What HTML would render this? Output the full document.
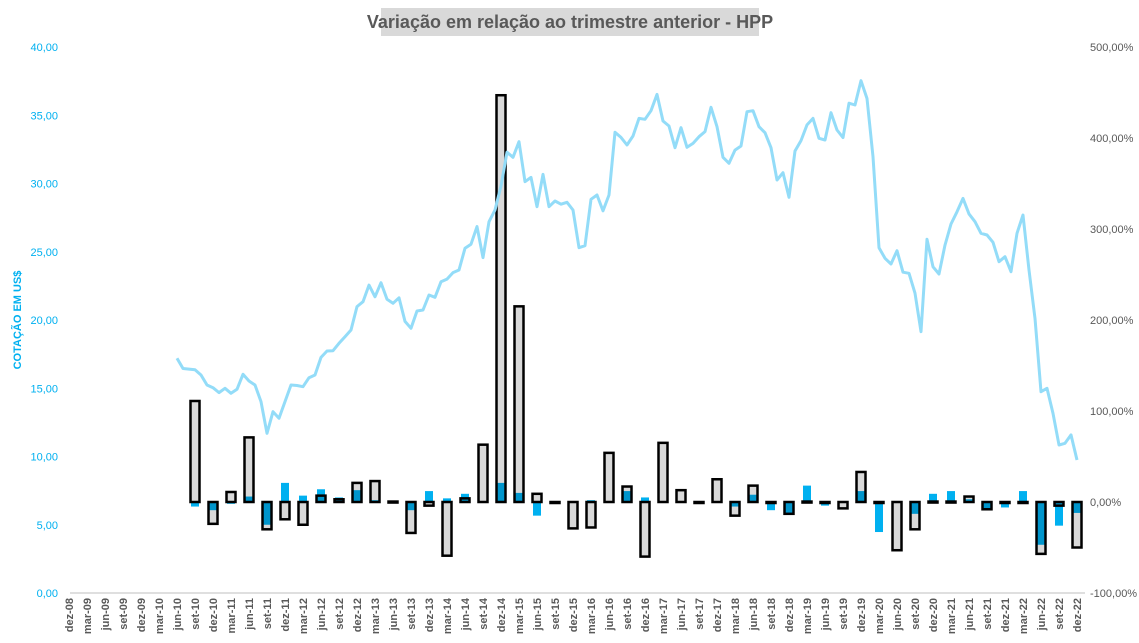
<!DOCTYPE html>
<html><head><meta charset="utf-8">
<style>
body{margin:0;background:#fff;font-family:"Liberation Sans",sans-serif;}
svg{display:block}
</style></head>
<body>
<svg id="chart" width="1139" height="643" xmlns="http://www.w3.org/2000/svg">
<rect x="381" y="8" width="378" height="28" fill="#d9d9d9"/>
<text x="570" y="28" text-anchor="middle" font-family="Liberation Sans, sans-serif" font-weight="bold" font-size="18" fill="#595959">Variação em relação ao trimestre anterior - HPP</text>
<text transform="translate(21,320) rotate(-90)" text-anchor="middle" font-family="Liberation Sans, sans-serif" font-weight="bold" font-size="11" fill="#00b0f0">COTAÇÃO EM US$</text>
<g id="axes"></g>
<g id="bars"></g>
<g id="line"></g>
</svg>
<script>
const quarters=["dez-08","mar-09","jun-09","set-09","dez-09","mar-10","jun-10","set-10","dez-10","mar-11","jun-11","set-11","dez-11","mar-12","jun-12","set-12","dez-12","mar-13","jun-13","set-13","dez-13","mar-14","jun-14","set-14","dez-14","mar-15","jun-15","set-15","dez-15","mar-16","jun-16","set-16","dez-16","mar-17","jun-17","set-17","dez-17","mar-18","jun-18","set-18","dez-18","mar-19","jun-19","set-19","dez-19","mar-20","jun-20","set-20","dez-20","mar-21","jun-21","set-21","dez-21","mar-22","jun-22","set-22","dez-22"];
// grey outlined bars (% variation), null = no bar
const greyVals=[null,null,null,null,null,null,null,111,-24,11,71,-30,-19,-25,7,3,21,23,0.5,-34,-4,-59,4,63,447,215,9,-1,-29,-28,54,17,-60,65,13,-1,25,-15,18,-1,-13,0.5,-0.5,-7,33,-1,-53,-30,0.5,0.5,6,-8,-1,-1,-57,-4,-50];
// blue bars (% variation)
const blueVals=[null,null,null,null,null,null,null,-5,-9,-2,6,-25,21,7,14,5,13,2,0.5,-9,12,4,9,-1,21,10,-15,0,-1,2,0,12,5,0,0,0,1,-5,8,-9,-13,18,-4,0,12,-33,0,-13,9,12,3,-8,-6,12,-47,-26,-12];
// monthly share price (US$), jun-10 .. dez-22
const price=[17.2,16.45,16.4,16.35,15.97,15.24,15.04,14.68,15.0,14.63,14.92,16.02,15.53,15.24,14.02,11.7,13.28,12.8,14.02,15.24,15.2,15.11,15.77,15.97,17.26,17.73,17.75,18.29,18.78,19.27,20.98,21.34,22.56,21.7,22.73,21.52,21.22,21.63,19.9,19.39,20.66,20.73,21.83,21.66,22.8,23.0,23.47,23.66,25.25,25.55,26.84,24.57,27.2,28.06,29.82,32.29,31.92,33.06,30.13,30.45,28.3,30.67,28.3,28.72,28.48,28.62,28.06,25.3,25.44,28.84,29.16,28.0,29.16,33.75,33.38,32.82,33.48,34.77,34.7,35.33,36.53,34.58,34.21,32.62,34.09,32.65,32.94,33.43,33.8,35.58,34.16,31.92,31.48,32.45,32.75,35.26,35.33,34.16,33.72,32.62,30.26,30.79,28.99,32.38,33.14,34.29,34.77,33.31,33.19,35.19,33.92,33.36,35.88,35.75,37.53,36.23,31.96,25.3,24.52,24.1,25.08,23.5,23.42,21.96,19.14,25.91,23.9,23.37,25.49,27.03,27.93,28.91,27.77,27.2,26.35,26.23,25.69,24.27,24.64,23.54,26.35,27.69,23.66,20.12,14.75,15.0,13.16,10.84,10.97,11.58,9.74];
const leftTicks=["0,00","5,00","10,00","15,00","20,00","25,00","30,00","35,00","40,00"];
const rightTicks=["-100,00%","0,00%","100,00%","200,00%","300,00%","400,00%","500,00%"];

const NS="http://www.w3.org/2000/svg";
const X0=69, DX=18, PRICE_START=6; // price starts at jun-10
const yTop=47, yBot=593;
function xq(i){return X0+i*DX;}
function xm(m){return X0+(PRICE_START*3+m)*DX/3;}
function yL(v){return yBot-(v/40)*(yBot-yTop);}
function yR(p){return yBot-((p+100)/600)*(yBot-yTop);}
function mk(tag,attrs,parent){const e=document.createElementNS(NS,tag);for(const k in attrs)e.setAttribute(k,attrs[k]);parent.appendChild(e);return e;}

const axes=document.getElementById('axes');
const base=mk('line',{x1:70,x2:1085,y1:yBot,y2:yBot,stroke:'#bfbfbf','stroke-width':1},axes);


leftTicks.forEach((t,i)=>{
  const e=mk('text',{x:58,y:yL(i*5)+4,'text-anchor':'end','font-size':11,fill:'#00b0f0','font-family':'Liberation Sans, sans-serif'},axes);
  e.textContent=t;
  
  
});
rightTicks.forEach((t,i)=>{
  const e=mk('text',{x:1090,y:yR(-100+i*100)+4,'text-anchor':'start','font-size':11,fill:'#595959','font-family':'Liberation Sans, sans-serif'},axes);
  e.textContent=t;
  
  
});
quarters.forEach((q,i)=>{
  const x=xq(i);
  const e=mk('text',{transform:`translate(${x+4},598) rotate(-90)`,'text-anchor':'end','font-size':11,'font-weight':'bold',fill:'#595959','font-family':'Liberation Sans, sans-serif'},axes);
  e.textContent=q;
  
  
});

const bars=document.getElementById('bars');
const y0=yR(0);
quarters.forEach((q,i)=>{
  const x=xq(i);
  const b=blueVals[i];
  if(b!==null&&b!==0){
    const yb=yR(b);
    const r=mk('rect',{x:x-4,y:Math.min(yb,y0),width:8,height:Math.max(Math.abs(yb-y0),1),fill:'#00b0f0'},bars);
    
    
  }
  const g=greyVals[i];
  if(g!==null){
    const yg=yR(g);
    const h=Math.max(Math.abs(yg-y0),1);
    const r=mk('rect',{x:x-4.5,y:Math.min(yg,y0),width:9,height:h,fill:'rgba(0,0,0,0.15)',stroke:'#000','stroke-width':2.5},bars);
    
    
  }
});

const lineG=document.getElementById('line');
const pts=price.map((v,m)=>xm(m).toFixed(1)+','+yL(v).toFixed(1)).join(' ');
const pl=mk('polyline',{points:pts,fill:'none',stroke:'#93dcf8','stroke-width':3,'stroke-linejoin':'round'},lineG);


</script>
</body></html>
